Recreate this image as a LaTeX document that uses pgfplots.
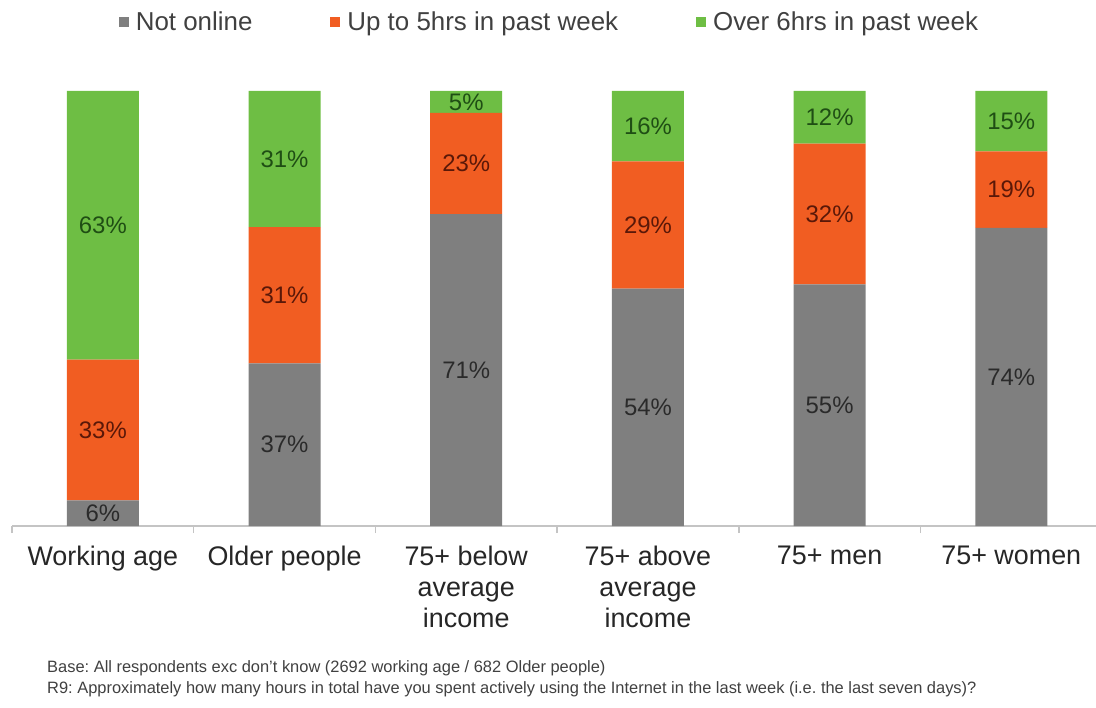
\documentclass[border=0pt]{standalone}
\usepackage{fontspec}
\setmainfont{Liberation Sans}
\usepackage{pgfplots}
\usepackage{pgfplotstable}
\pgfplotsset{compat=1.18}
\definecolor{cgrey}{HTML}{7F7F7F}
\definecolor{corange}{HTML}{F15D22}
\definecolor{cgreen}{HTML}{6EBE44}
\definecolor{caxis}{HTML}{C4C4C4}
\definecolor{ctext}{HTML}{262626}
\definecolor{clegend}{HTML}{404040}
\definecolor{clgreen}{HTML}{1F4E14}
\definecolor{clorange}{HTML}{5A1808}
\definecolor{clgrey}{HTML}{2A2A2A}

% h = drawn (100%-normalised) segment height, lab = printed label
\pgfplotstableread{
x h lab
0 5.882 6
1 37.374 37
2 71.717 71
3 54.545 54
4 55.556 55
5 68.519 74
}\notonline
\pgfplotstableread{
x h lab
0 32.353 33
1 31.313 31
2 23.232 23
3 29.293 29
4 32.323 32
5 17.593 19
}\uptofive
\pgfplotstableread{
x h lab
0 61.765 63
1 31.313 31
2 5.051 5
3 16.162 16
4 12.121 12
5 13.889 15
}\oversix

\begin{document}
\frenchspacing
\begin{tikzpicture}
\useasboundingbox (-12bp,-182bp) rectangle (1084bp,526bp);
\begin{axis}[
  anchor=south west, at={(0,0)},
  scale only axis, width=1084bp, height=435bp,
  xmin=-0.5, xmax=5.466, ymin=0, ymax=100,
  ybar stacked, bar width=72bp,
  axis x line*=bottom, axis y line=none,
  axis line style={draw=caxis, line width=1.5bp},
  xtick={0,...,5},
  xticklabels={Working age, Older people, {75+ below\\average\\income}, {75+ above\\average\\income}, 75+ men, 75+ women},
  major tick length=0pt,
  minor xtick={-0.5,0.5,1.5,2.5,3.5,4.5},
  minor tick length=7bp,
  tick align=outside,
  minor tick style={draw=caxis, line width=1.5bp},
  xticklabel style={font=\fontsize{27}{31}\selectfont, align=center, text=ctext, inner sep=0pt, anchor=north, yshift=-20bp},
  clip=false,
  legend columns=3,
  legend style={at={(0.4958,1.1586)}, anchor=center, draw=none, fill=none, font=\fontsize{26}{30}\selectfont, text=clegend, /tikz/every even column/.append style={column sep=76bp}},
  legend image code/.code={\fill[#1, draw=none] (0bp,-5bp) rectangle (10bp,5bp); \path (15bp,0bp);},
  point meta=explicit symbolic,
  nodes near coords={\pgfplotspointmeta\%},
  nodes near coords align=center,
  every node near coord/.append style={font=\fontsize{24}{28}\selectfont},
]
\addplot[fill=cgrey, draw=none, every node near coord/.append style={text=clgrey}] table[x=x, y=h, meta=lab]{\notonline};
\addplot[fill=corange, draw=none, every node near coord/.append style={text=clorange}] table[x=x, y=h, meta=lab]{\uptofive};
\addplot[fill=cgreen, draw=none, every node near coord/.append style={text=clgreen}] table[x=x, y=h, meta=lab]{\oversix};
\legend{Not online, Up to 5hrs in past week, Over 6hrs in past week}
\end{axis}
\node[anchor=base west, inner sep=0pt, font=\fontsize{16.5}{19}\selectfont, text=clegend] at (35bp,-146bp) {Base: All respondents exc don't know (2692 working age / 682 Older people)};
\node[anchor=base west, inner sep=0pt, font=\fontsize{16.5}{19}\selectfont, text=clegend] at (35bp,-167bp) {R9: Approximately how many hours in total have you spent actively using the Internet in the last week (i.e. the last seven days)?};
\end{tikzpicture}
\end{document}
